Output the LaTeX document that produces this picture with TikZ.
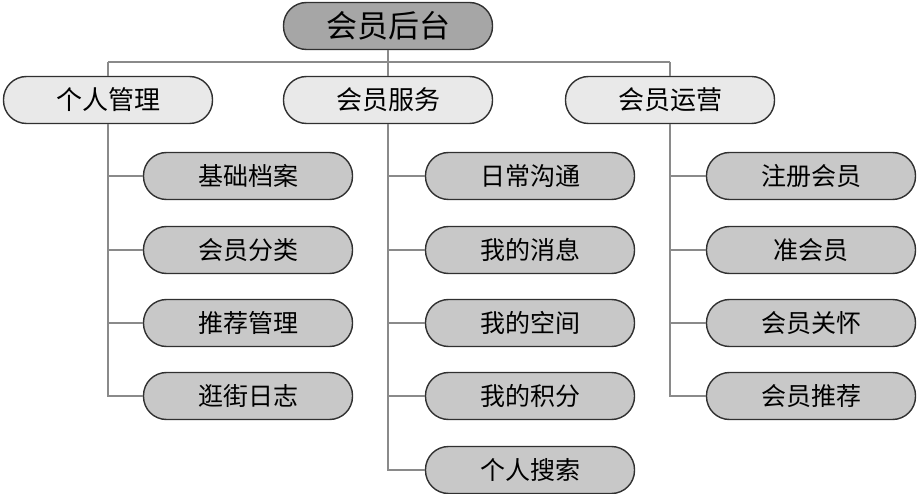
\documentclass[tikz,border=0pt]{standalone}
\usepackage{fontspec}
\newfontfamily\cjk{Noto Sans CJK SC}
\definecolor{topfill}{HTML}{A6A6A6}
\definecolor{midfill}{HTML}{E9E9E9}
\definecolor{leaffill}{HTML}{C8C8C8}
\definecolor{edge}{HTML}{303030}
\definecolor{wire}{HTML}{8A8A8A}
\tikzset{
  pill/.style={draw=edge, line width=1.4pt, rounded corners=23pt, minimum width=209pt, minimum height=47pt, inner sep=0pt},
  topbox/.style={pill, fill=topfill, font=\cjk\fontsize{31}{31}\selectfont},
  midbox/.style={pill, fill=midfill, font=\cjk\fontsize{26}{26}\selectfont},
  leafbox/.style={pill, fill=leaffill, font=\cjk\fontsize{25}{25}\selectfont},
  wireline/.style={draw=wire, line width=1.1pt}
}
\begin{document}
\begin{tikzpicture}[x=1pt,y=-1pt]
\useasboundingbox (0,0) rectangle (918,494);
\coordinate (hl) at (108,62);
\coordinate (hm) at (388,62);
\coordinate (hr) at (670,62);
\node[topbox] (root) at (388,26) {会员后台};
\node[midbox] (m1) at (108,100) {个人管理};
\node[midbox] (m2) at (388,100) {会员服务};
\node[midbox] (m3) at (670,100) {会员运营};
\draw[wireline] (root.south) -- (hm);
\draw[wireline] (hl) -- (hr);
\draw[wireline] (hl) -- (m1.north);
\draw[wireline] (hm) -- (m2.north);
\draw[wireline] (hr) -- (m3.north);
% leaves
\node[leafbox] (a1) at (248,176) {基础档案};
\node[leafbox] (a2) at (248,250) {会员分类};
\node[leafbox] (a3) at (248,323) {推荐管理};
\node[leafbox] (a4) at (248,396) {逛街日志};
\node[leafbox] (b1) at (530,176) {日常沟通};
\node[leafbox] (b2) at (530,250) {我的消息};
\node[leafbox] (b3) at (530,323) {我的空间};
\node[leafbox] (b4) at (530,396) {我的积分};
\node[leafbox] (b5) at (530,470) {个人搜索};
\node[leafbox] (c1) at (811,176) {注册会员};
\node[leafbox] (c2) at (811,250) {准会员};
\node[leafbox] (c3) at (811,323) {会员关怀};
\node[leafbox] (c4) at (811,396) {会员推荐};
\draw[wireline] (m1.south) |- (a4.west);
\foreach \n in {a1,a2,a3} \draw[wireline] (m1.south |- \n.west) -- (\n.west);
\draw[wireline] (m2.south) |- (b5.west);
\foreach \n in {b1,b2,b3,b4} \draw[wireline] (m2.south |- \n.west) -- (\n.west);
\draw[wireline] (m3.south) |- (c4.west);
\foreach \n in {c1,c2,c3} \draw[wireline] (m3.south |- \n.west) -- (\n.west);
\end{tikzpicture}
\end{document}
